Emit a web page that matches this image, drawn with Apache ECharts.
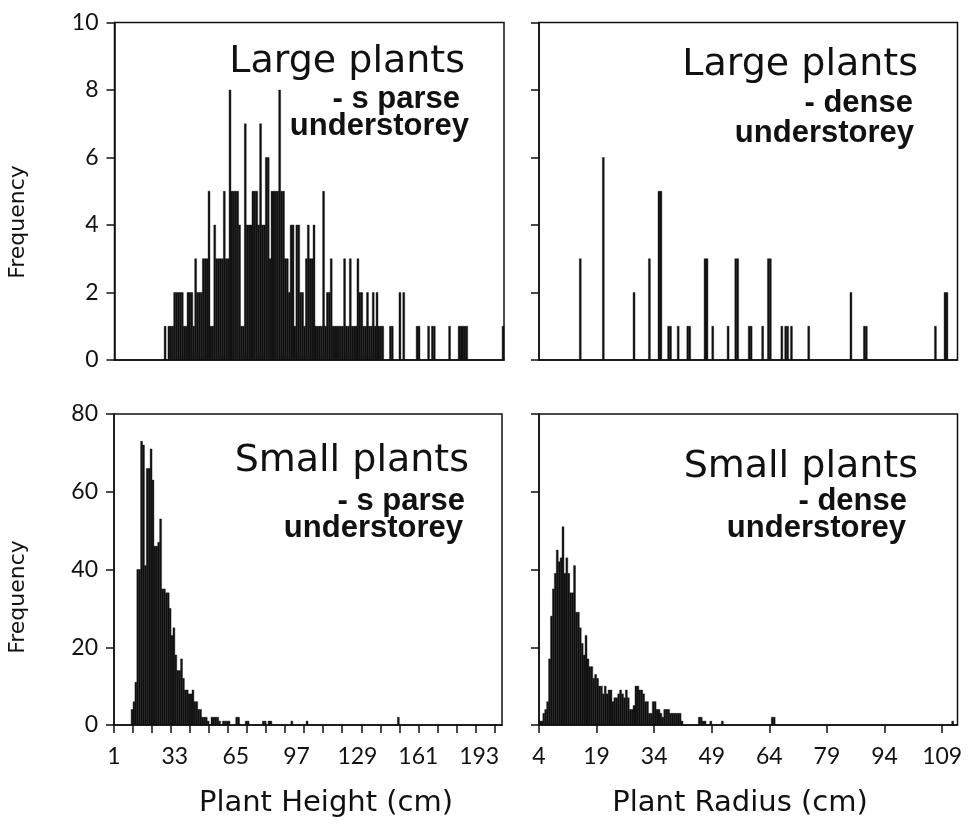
<!DOCTYPE html>
<html>
<head>
<meta charset="utf-8">
<script src="https://cdn.jsdelivr.net/npm/echarts@6/dist/echarts.min.js"></script>
<style>
  html, body { margin: 0; padding: 0; background: #fff; }
  #chart { width: 971px; height: 835px; }
</style>
</head>
<body>
<div id="chart"></div>
<script>
// Histogram counts as [bin start, frequency]; height bins are 1 cm wide, radius bins 0.5 cm wide.
const largeSparse = [
  [27,1],[29,1],[30,1],[31,1],[32,2],[33,2],[34,2],[35,2],[36,2],[37,1],[38,1],[39,2],[40,2],[41,2],[42,1],
  [43,3],[44,2],[45,2],[46,2],[47,3],[48,3],[49,3],[50,5],[51,1],[52,1],[53,4],[54,3],[55,3],[56,3],[57,3],
  [58,5],[59,3],[60,3],[61,8],[62,5],[63,5],[64,5],[65,5],[66,4],[67,1],[68,1],[69,7],[70,4],[71,4],[72,4],
  [73,5],[74,5],[75,5],[76,4],[77,7],[78,4],[79,4],[80,6],[81,6],[82,3],[83,5],[84,5],[85,5],[86,5],[87,8],
  [88,5],[89,5],[90,3],[91,3],[92,2],[93,4],[94,4],[95,1],[96,4],[97,4],[98,2],[99,2],[100,1],[101,3],[102,4],
  [103,3],[104,3],[105,4],[106,1],[107,1],[108,1],[109,1],[110,5],[111,1],[112,2],[113,2],[114,3],[115,1],
  [116,1],[117,1],[118,1],[119,1],[120,1],[121,3],[122,1],[123,1],[124,3],[125,1],[126,1],[127,1],[128,3],
  [129,2],[130,2],[131,1],[132,1],[133,2],[134,1],[135,1],[136,2],[137,1],[138,2],[139,1],[140,1],[141,1],
  [145,1],[146,1],[150,2],[152,2],[159,1],[160,1],[165,1],[167,1],[168,1],[176,1],
  [181,1],[182,1],[183,1],[184,1],[185,1],[204,1]
];
const largeDense = [
  [14.5,3],[20.5,6],[28.5,2],[32.5,3],[35,5],[35.5,5],[37.5,1],[38,1],[40,1],[42.5,1],[43,1],
  [47,3],[47.5,3],[49,1],[53,1],[55,3],[55.5,3],[58.5,1],[59,1],[62,1],[63.5,3],[64,3],
  [67,1],[68,1],[68.5,1],[69.5,1],[74,1],[85,2],[88.5,1],[89,1],[107,1],[109.5,2],[110,2]
];
const smallSparse = [
  [10,4],[11,6],[12,11],[13,40],[14,40],[15,73],[16,72],[17,41],[18,66],[19,66],[20,71],[21,63],[22,46],
  [23,46],[24,47],[25,53],[26,35],[27,35],[28,34],[29,34],[30,30],[31,23],[32,25],[33,18],[34,14],[35,14],
  [36,17],[37,12],[38,9],[39,9],[40,8],[41,8],[42,9],[43,6],[44,6],[45,4],[46,4],[47,2],[48,2],[49,2],
  [50,1],[52,2],[53,2],[54,2],[55,2],[56,1],[58,1],[59,1],[60,1],[61,1],[65,2],[66,2],[70,1],[71,1],
  [79,1],[80,1],[82,1],[83,1],[94,1],[102,1],[150,2]
];
const smallDense = [
  [4,1],[4.5,1],[5,3],[5.5,4],[6,6],[6.5,17],[7,28],[7.5,35],[8,39],[8.5,45],[9,42],[9.5,43],[10,51],
  [10.5,39],[11,43],[11.5,39],[12,34],[12.5,34],[13,41],[13.5,29],[14,29],[14.5,25],[15,21],[15.5,18],
  [16,23],[16.5,17],[17,15],[17.5,15],[18,12],[18.5,13],[19,12],[19.5,10],[20,10],[20.5,8],[21,10],
  [21.5,8],[22,9],[22.5,9],[23,6],[23.5,7],[24,7],[24.5,8],[25,9],[25.5,8],[26,7],[26.5,9],[27,7],
  [27.5,4],[28,4],[28.5,5],[29,10],[29.5,10],[30,9],[30.5,9],[31,8],[31.5,6],[32,6],[32.5,3],[33,3],
  [33.5,6],[34,6],[34.5,4],[35,4],[35.5,3],[36,2],[36.5,4],[37,4],[37.5,4],[38,3],[38.5,3],[39,3],
  [39.5,3],[40,3],[40.5,3],[41,1],[45.5,2],[46,2],[46.5,1],[47,1],[48.5,1],[51.5,1],[64.5,2],[65,2],[111.5,1]
];

// Axis ticks and labels
const heightLabels = [1, 33, 65, 97, 129, 161, 193];
const heightTicks = [1, 11, 21, 31, 41, 51, 61, 71, 81, 91, 101, 111, 121, 131, 141, 151, 161, 171, 181, 191, 201];
const radiusLabels = [4, 19, 34, 49, 64, 79, 94, 109];
const largeFreqTicks = [0, 2, 4, 6, 8, 10];
const smallFreqTicks = [0, 20, 40, 60, 80];

const INK = '#111';
const TICK_FONT = 'Lato';
const TICK_SIZE = 23;

function histSeries(idx, data, binWidth) {
  return {
    type: 'custom',
    xAxisIndex: idx,
    yAxisIndex: idx,
    clip: true,
    data: data,
    renderItem: function (params, api) {
      const x = api.value(0), y = api.value(1);
      const p0 = api.coord([x, y]);
      const p1 = api.coord([x + binWidth, 0]);
      return {
        type: 'rect',
        shape: { x: p0[0], y: p0[1], width: p1[0] - p0[0], height: p1[1] - p0[1] },
        style: { fill: INK, stroke: INK, lineWidth: 0.4 }
      };
    }
  };
}

function xAxisDef(idx, min, max, ticks, labels, showTicks) {
  return {
    type: 'value', gridIndex: idx, min: min, max: max,
    axisLine: { show: true, onZero: false, lineStyle: { color: INK, width: 1.5 } },
    axisTick: { show: showTicks, customValues: ticks, length: 8, lineStyle: { color: INK, width: 1.5 } },
    axisLabel: { show: showTicks, customValues: labels, margin: 20, color: INK, fontFamily: TICK_FONT, fontSize: TICK_SIZE },
    splitLine: { show: false }
  };
}

function yAxisDef(idx, ticks, showLabels) {
  return {
    type: 'value', gridIndex: idx, min: ticks[0], max: ticks[ticks.length - 1],
    axisLine: { show: true, lineStyle: { color: INK, width: 1.5 } },
    axisTick: { show: true, customValues: ticks, length: 8, lineStyle: { color: INK, width: 1.5 } },
    axisLabel: { show: showLabels, customValues: ticks, margin: 16, color: INK, fontFamily: TICK_FONT, fontSize: TICK_SIZE },
    splitLine: { show: false }
  };
}

// Three-line panel caption, right aligned; each line placed by its own anchor
function panelTitle(main, sub, lines) {
  const big = '38px "DejaVu Sans"';
  const bold = 'bold 31px "Liberation Sans"';
  return [
    { type: 'text', x: lines[0][0], y: lines[0][1], style: { text: main, fill: INK, font: big, align: 'right', verticalAlign: 'middle' } },
    { type: 'text', x: lines[1][0], y: lines[1][1], style: { text: sub, fill: INK, font: bold, align: 'right', verticalAlign: 'middle' } },
    { type: 'text', x: lines[2][0], y: lines[2][1], style: { text: 'understorey', fill: INK, font: bold, align: 'right', verticalAlign: 'middle' } }
  ];
}

const gridBox = { show: true, borderColor: INK, borderWidth: 1.5, backgroundColor: 'transparent' };

const option = {
  backgroundColor: '#fff',
  animation: false,
  grid: [
    Object.assign({ left: 114.5, top: 22.5, width: 389.5, height: 337.5 }, gridBox),
    Object.assign({ left: 539, top: 22.5, width: 418.5, height: 337.5 }, gridBox),
    Object.assign({ left: 114, top: 414, width: 388, height: 311 }, gridBox),
    Object.assign({ left: 539, top: 414, width: 418.5, height: 311 }, gridBox)
  ],
  xAxis: [
    xAxisDef(0, 1, 205, heightTicks, heightLabels, false),
    xAxisDef(1, 4, 113, radiusLabels, radiusLabels, false),
    xAxisDef(2, 1, 205, heightTicks, heightLabels, true),
    xAxisDef(3, 4, 113, radiusLabels, radiusLabels, true)
  ],
  yAxis: [
    yAxisDef(0, largeFreqTicks, true),
    yAxisDef(1, largeFreqTicks, false),
    yAxisDef(2, smallFreqTicks, true),
    yAxisDef(3, smallFreqTicks, false)
  ],
  series: [
    histSeries(0, largeSparse, 1),
    histSeries(1, largeDense, 0.5),
    histSeries(2, smallSparse, 1),
    histSeries(3, smallDense, 0.5)
  ],
  graphic: [].concat(
    panelTitle('Large plants', '- s parse', [[465, 62.5], [460, 99], [469, 126]]),
    panelTitle('Large plants', '- dense', [[918, 65.5], [913, 103], [914, 133]]),
    panelTitle('Small plants', '- s parse', [[469, 461.5], [465, 501], [463, 528]]),
    panelTitle('Small plants', '- dense', [[918, 467.5], [907, 501], [906, 528]]),
    [
      { type: 'text', x: 18, y: 222, rotation: Math.PI / 2, style: { text: 'Frequency', fill: INK, font: '22px "DejaVu Sans"', align: 'center', verticalAlign: 'middle' } },
      { type: 'text', x: 18, y: 597, rotation: Math.PI / 2, style: { text: 'Frequency', fill: INK, font: '22px "DejaVu Sans"', align: 'center', verticalAlign: 'middle' } },
      { type: 'text', x: 326, y: 803, style: { text: 'Plant Height (cm)', fill: INK, font: '29px "DejaVu Sans"', align: 'center', verticalAlign: 'middle' } },
      { type: 'text', x: 740, y: 803, style: { text: 'Plant Radius (cm)', fill: INK, font: '29px "DejaVu Sans"', align: 'center', verticalAlign: 'middle' } }
    ]
  )
};

const chart = echarts.init(document.getElementById('chart'), null, { renderer: 'canvas' });
chart.setOption(option);
</script>
</body>
</html>
